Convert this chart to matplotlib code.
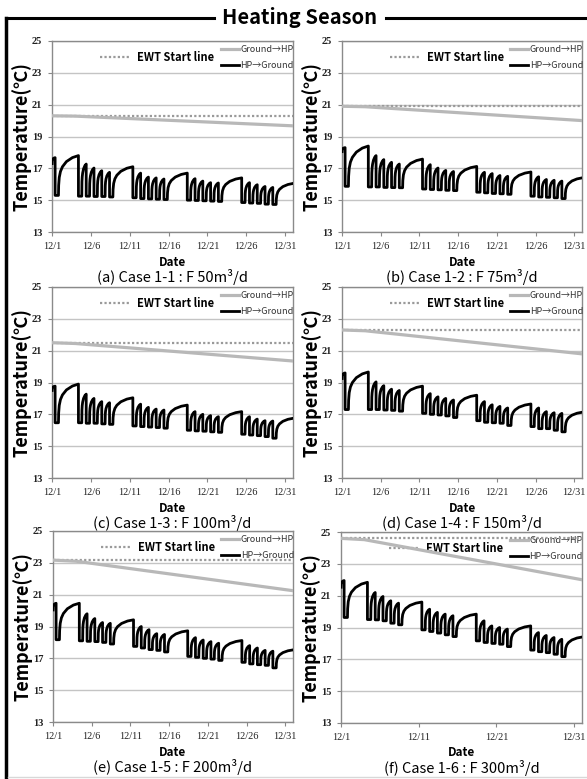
"""
plot.py

Heating season: EWT start line, Ground->HP and HP->Ground temperatures
for six flow-rate cases (December).
"""

#####################################
# Import Modules
#####################################

import matplotlib

matplotlib.use("Agg")
import matplotlib.pyplot as plt
from matplotlib.lines import Line2D

plt.rcParams["font.family"] = ["Noto Sans CJK KR", "DejaVu Sans"]

#####################################
# Data
#####################################

CAPTIONS = [
    "(a) Case 1-1 : F 50m³/d",
    "(b) Case 1-2 : F 75m³/d",
    "(c) Case 1-3 : F 100m³/d",
    "(d) Case 1-4 : F 150m³/d",
    "(e) Case 1-5 : F 200m³/d",
    "(f) Case 1-6 : F 300m³/d",
]

# days since 12/1 on which the heat pump runs
WORK_DAYS = [0, 3, 4, 5, 6, 7, 10, 11, 12, 13, 14, 17, 18, 19, 20, 21, 24, 25, 26, 27, 28]
RUN_START = 0.40  # fraction of day
RUN_END = 0.83

# recovery shape after the pump stops (fraction of interval, fraction of rise)
RECOVERY_T = [0.0, 0.01, 0.04, 0.1, 0.2, 0.4, 0.7, 1.0]
RECOVERY_F = [0.0, 0.25, 0.45, 0.6, 0.72, 0.85, 0.95, 1.0]

# EWT start value per case
EWT_START = [20.3, 20.9, 21.5, 22.3, 23.17, 24.6]

# Ground->HP line
GROUND_DAYS = [0, 3, 31]
GROUND_A = [20.3, 20.28, 19.67]
GROUND_B = [20.9, 20.87, 20.0]
GROUND_C = [21.5, 21.45, 20.35]
GROUND_D = [22.3, 22.25, 20.8]
GROUND_E = [23.17, 23.1, 21.25]
GROUND_F = [24.6, 24.52, 22.0]

# HP->Ground line: start, value before each run, value during each run, end
HP_START = [17.3, 18.05, 18.5, 19.25, 20.04, 21.53]
HP_END = [16.05, 16.4, 16.75, 17.13, 17.53, 18.4]

PEAKS_A = [17.67, 17.8, 17.27, 17.02, 16.85, 16.75, 17.1, 16.7, 16.45, 16.4, 16.33,
           16.7, 16.35, 16.2, 16.1, 16.08, 16.4, 16.1, 15.97, 15.86, 15.8]
LOWS_A = [15.3, 15.25, 15.25, 15.23, 15.23, 15.2, 15.15, 15.1, 15.08, 15.06, 15.04,
          15.0, 14.98, 14.96, 14.94, 14.92, 14.85, 14.82, 14.8, 14.75, 14.73]

PEAKS_B = [18.3, 18.4, 17.8, 17.55, 17.38, 17.27, 17.58, 17.23, 17.02, 16.87, 16.8,
           17.12, 16.75, 16.67, 16.55, 16.5, 16.77, 16.47, 16.3, 16.25, 16.2]
LOWS_B = [15.87, 15.83, 15.83, 15.8, 15.79, 15.78, 15.7, 15.67, 15.65, 15.62, 15.6,
          15.5, 15.46, 15.42, 15.4, 15.37, 15.25, 15.2, 15.18, 15.15, 15.1]

PEAKS_C = [18.77, 18.9, 18.27, 18.0, 17.8, 17.73, 18.04, 17.64, 17.44, 17.33, 17.27,
           17.58, 17.17, 17.0, 16.92, 16.85, 17.17, 16.85, 16.7, 16.6, 16.58]
LOWS_C = [16.47, 16.47, 16.44, 16.44, 16.4, 16.37, 16.27, 16.23, 16.2, 16.17, 16.13,
          16.0, 15.96, 15.94, 15.9, 15.87, 15.75, 15.7, 15.66, 15.6, 15.5]

PEAKS_D = [19.6, 19.66, 19.04, 18.8, 18.58, 18.5, 18.77, 18.3, 18.1, 18.0, 17.9,
           18.2, 17.8, 17.6, 17.5, 17.4, 17.65, 17.4, 17.17, 17.1, 17.06]
LOWS_D = [17.3, 17.3, 17.3, 17.27, 17.25, 17.2, 17.06, 17.0, 16.96, 16.9, 16.8,
          16.6, 16.5, 16.47, 16.44, 16.3, 16.23, 16.1, 16.1, 16.0, 15.9]

PEAKS_E = [20.46, 20.46, 19.8, 19.5, 19.25, 19.2, 19.42, 19.0, 18.8, 18.55, 18.5,
           18.73, 18.3, 18.15, 18.05, 17.95, 18.12, 17.8, 17.65, 17.5, 17.45]
LOWS_E = [18.17, 18.1, 18.07, 18.05, 18.0, 17.9, 17.75, 17.65, 17.55, 17.5, 17.4,
          17.12, 17.06, 17.0, 16.95, 16.87, 16.75, 16.65, 16.6, 16.56, 16.4]

PEAKS_F = [21.95, 21.84, 21.2, 20.95, 20.68, 20.53, 20.6, 20.15, 19.95, 19.84, 19.74,
           19.84, 19.42, 19.1, 19.0, 18.9, 19.1, 18.68, 18.5, 18.37, 18.26]
LOWS_F = [19.63, 19.5, 19.48, 19.42, 19.27, 19.17, 18.85, 18.75, 18.65, 18.54, 18.43,
          18.16, 18.06, 18.0, 17.95, 17.8, 17.58, 17.48, 17.42, 17.32, 17.17]

GROUNDS = [GROUND_A, GROUND_B, GROUND_C, GROUND_D, GROUND_E, GROUND_F]
PEAKS = [PEAKS_A, PEAKS_B, PEAKS_C, PEAKS_D, PEAKS_E, PEAKS_F]
LOWS = [LOWS_A, LOWS_B, LOWS_C, LOWS_D, LOWS_E, LOWS_F]

TICK_DAYS = [0, 5, 10, 15, 20, 25, 30]
TICK_LABELS = ["12/1", "12/6", "12/11", "12/16", "12/21", "12/26", "12/31"]
TICK_DAYS_F = [0, 10, 20, 30]
TICK_LABELS_F = ["12/1", "12/11", "12/21", "12/31"]
Y_TICKS = [13, 15, 17, 19, 21, 23, 25]

#####################################
# Helpers
#####################################


def recovery(x, y, t0, t1, v0, v1):
    """Append the recovery curve from (t0, v0) up to (t1, v1)."""
    for ft, fv in zip(RECOVERY_T, RECOVERY_F):
        x.append(t0 + ft * (t1 - t0))
        y.append(v0 + fv * (v1 - v0))


def hp_series(start, peaks, lows, end):
    """Build the HP->Ground vertices from the per-run values."""
    x, y = [], []
    t_prev, v_prev = 0.0, start
    for day, peak, low in zip(WORK_DAYS, peaks, lows):
        recovery(x, y, t_prev, day + RUN_START, v_prev, peak)
        x += [day + RUN_START, day + RUN_END]
        y += [low, low]
        t_prev, v_prev = day + RUN_END, low
    recovery(x, y, t_prev, 31, v_prev, end)
    return x, y


#####################################
# Figure
#####################################

W, H = 587, 779
fig = plt.figure(figsize=(W / 100, H / 100), dpi=100)

# frame round the whole figure with the title in the top line
fig.add_artist(Line2D([6 / W, 6 / W], [0, 1 - 18 / H], color="black", lw=2.5))
fig.add_artist(Line2D([6 / W, 214 / W], [1 - 18 / H] * 2, color="black", lw=2.2))
fig.add_artist(Line2D([386 / W, 1], [1 - 18 / H] * 2, color="black", lw=2.2))
fig.add_artist(Line2D([8 / W, 1], [2 / H, 2 / H], color="#d8d8d8", lw=1))
fig.text(300 / W, 1 - 18 / H, "Heating Season", ha="center", va="center",
         fontsize=14.5, fontweight="bold")

# axes boxes in pixels: left, top, right, bottom
BOXES = [
    (52, 41, 293, 232), (342, 41, 582, 232),
    (52, 287, 293, 478), (342, 287, 582, 478),
    (53, 531, 293, 722), (341, 532, 582, 723),
]

TICK_FONT = ["Liberation Serif", "DejaVu Serif"]

for i, (l, t, r, b) in enumerate(BOXES):
    ax = fig.add_axes([l / W, 1 - b / H, (r - l) / W, (b - t) / H])
    h_ax = b - t

    ax.set_xlim(0, 31)
    ax.set_ylim(13, 25)
    ax.set_yticks(Y_TICKS)
    ax.set_yticklabels([str(v) for v in Y_TICKS], fontsize=7.5, fontweight="bold",
                       color="#222222", family=TICK_FONT)
    if i == 5:
        ax.set_xticks(TICK_DAYS_F)
        ax.set_xticklabels(TICK_LABELS_F, fontsize=7.5, color="#222222",
                           family=TICK_FONT)
    else:
        ax.set_xticks(TICK_DAYS)
        ax.set_xticklabels(TICK_LABELS, fontsize=7.5, color="#222222",
                           family=TICK_FONT)
    ax.tick_params(length=3, width=0.8, color="#888888", pad=4)
    ax.grid(axis="y", color="#c4c4c4", lw=1)
    ax.set_axisbelow(True)
    for sp in ax.spines.values():
        sp.set_color("#8a8a8a")
        sp.set_linewidth(1)

    ewt, = ax.plot([0, 31], [EWT_START[i], EWT_START[i]], color="#9a9a9a",
                   lw=1.6, ls=(0, (1, 1)), zorder=3)
    ground, = ax.plot(GROUND_DAYS, GROUNDS[i], color="#b8b8b8", lw=2.3, zorder=3)
    hx, hy = hp_series(HP_START[i], PEAKS[i], LOWS[i], HP_END[i])
    hp, = ax.plot(hx, hy, color="black", lw=2.0, zorder=4)

    leg1 = ax.legend([ewt], ["EWT Start line"], loc="center left",
                     bbox_to_anchor=(0.2, 0.916), frameon=False, borderpad=0,
                     borderaxespad=0, handlelength=2.7, handletextpad=0.6,
                     prop={"size": 8, "weight": "bold"})
    leg1.set_zorder(2.5)
    ax.add_artist(leg1)
    leg2 = ax.legend([ground, hp], ["Ground→HP", "HP→Ground"], loc="center left",
                     bbox_to_anchor=(0.70, 0.912), frameon=False, borderpad=0,
                     borderaxespad=0, handlelength=2.0, handletextpad=0.2,
                     labelspacing=0.75, prop={"size": 6.5})
    leg2.set_zorder(2.5)
    for txt in leg2.get_texts():
        txt.set_color("#333333")

    ax.text(-30 / (r - l), 0.5, "Temperature(℃)", transform=ax.transAxes,
            rotation=90, ha="center", va="center", fontsize=13, fontweight="bold")
    ax.text(0.5, -30 / h_ax, "Date", transform=ax.transAxes, ha="center",
            va="center", fontsize=8.5, fontweight="bold")
    ax.text(0.5, -45 / h_ax, CAPTIONS[i], transform=ax.transAxes, ha="center",
            va="center", fontsize=10.5, fontweight="medium")

fig.savefig("out.png", dpi=100)
